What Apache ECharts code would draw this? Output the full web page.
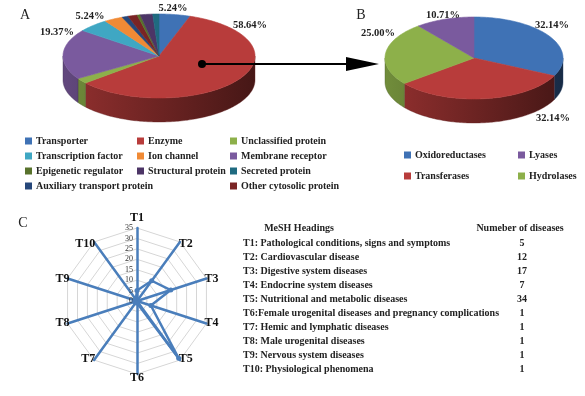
<!DOCTYPE html>
<html>
<head>
<meta charset="utf-8">
<script src="https://cdn.jsdelivr.net/npm/echarts@6/dist/echarts.min.js"></script>
<style>
html,body{margin:0;padding:0;background:#fff}
#main{width:585px;height:396px}
</style>
</head>
<body>
<div id="main"></div>
<script>
// ---- data ----
var pieANames=['Transporter','Enzyme','Unclassified protein','Membrane receptor','Transcription factor','Ion channel','Auxiliary transport protein','Other cytosolic protein','Epigenetic regulator','Structural protein','Secreted protein'];
var pieAValues=[5.24,58.64,2.09,19.37,5.24,3.14,1.05,1.57,0.52,2.09,1.05];
var pieAColors=['#3f72b5','#b83c3b','#8db04a','#7a5a9e','#3fa7c3','#f08a35','#26477a','#7a2424','#58722c','#4c3566','#1f6a80'];
var pieALabelled=[true,true,false,true,true,false,false,false,false,false,false];

var pieBNames=['Oxidoreductases','Transferases','Hydrolases','Lyases'];
var pieBValues=[32.14,32.14,25.00,10.71];
var pieBColors=['#3f72b5','#b83c3b','#8db04a','#7a5a9e'];

var radarNames=['T1','T2','T3','T4','T5','T6','T7','T8','T9','T10'];
var radarValues=[5,12,17,7,34,1,1,1,1,1];
var meshHeadings=['T1: Pathological conditions, signs and symptoms','T2: Cardiovascular disease','T3: Digestive system diseases','T4: Endocrine system diseases','T5: Nutritional and metabolic diseases','T6:Female urogenital diseases and pregnancy complications','T7: Hemic and lymphatic diseases','T8: Male urogenital diseases','T9: Nervous system diseases','T10: Physiological phenomena'];

// legend columns (as laid out in the figure)
var legendACols=[
  ['Transporter','Transcription factor','Epigenetic regulator','Auxiliary transport protein'],
  ['Enzyme','Ion channel','Structural protein'],
  ['Unclassified protein','Membrane receptor','Secreted protein','Other cytosolic protein']
];
var legendBCols=[['Oxidoreductases','Transferases'],['Lyases','Hydrolases']];

// ---- layout ----
var serif='"Liberation Serif","DejaVu Serif",serif';
var geoA={cx:159,cy:56,rx:96,ry:42,depth:24};
var geoB={cx:474,cy:58,rx:89,ry:41,depth:24};
var labelPosA=[[173,8],[250,25],null,[57,32],[90,16]];
var labelPosB=[[552,25],[553,118],[378,33],[443,15]];

function shade(hex,f){
  var n=parseInt(hex.slice(1),16);
  var r=Math.round(((n>>16)&255)*f),g=Math.round(((n>>8)&255)*f),b=Math.round((n&255)*f);
  return 'rgb('+r+','+g+','+b+')';
}

function pie3d(names,values,colors,geo){
  var total=values.reduce(function(a,b){return a+b;},0);
  var acc=0,starts=[];
  values.forEach(function(v){starts.push(acc/total*Math.PI*2);acc+=v;});
  function pt(t,dy){return [geo.cx+geo.rx*Math.sin(t),geo.cy-geo.ry*Math.cos(t)+(dy||0)];}
  function arc(a0,a1,dy){
    var n=Math.max(2,Math.ceil((a1-a0)/0.02)),out=[];
    for(var k=0;k<=n;k++){out.push(pt(a0+(a1-a0)*k/n,dy));}
    return out;
  }
  return names.map(function(name,i){
    var a0=starts[i],a1=a0+values[i]/total*Math.PI*2;
    return {
      type:'custom',name:name,coordinateSystem:'none',silent:true,
      itemStyle:{color:colors[i]},
      data:[[values[i]]],
      renderItem:function(){
        var children=[];
        children.push({type:'polygon',z2:10,shape:{points:[[geo.cx,geo.cy]].concat(arc(a0,a1))},
          style:{fill:colors[i],stroke:colors[i],lineWidth:0.6}});
        var s0=Math.max(a0,Math.PI/2),s1=Math.min(a1,Math.PI*1.5);
        if(s1>s0){
          var top=arc(s0,s1),bot=arc(s0,s1,geo.depth).reverse();
          children.push({type:'polygon',z2:1,shape:{points:top.concat(bot)},
            style:{fill:{type:'linear',global:true,x:geo.cx-geo.rx,y:0,x2:geo.cx+geo.rx,y2:0,
              colorStops:[{offset:0,color:shade(colors[i],0.8)},{offset:1,color:shade(colors[i],0.38)}]},
              stroke:shade(colors[i],0.55),lineWidth:0.4}});
        }
        return {type:'group',children:children};
      }
    };
  });
}

function legendCol(data,left,top,gap){
  return {data:data,orient:'vertical',left:left,top:top,itemGap:gap,itemWidth:7,itemHeight:7,icon:'rect',
    selectedMode:false,padding:0,textStyle:{fontFamily:serif,fontWeight:'bold',fontSize:10,color:'#222',padding:[0,0,0,-1]}};
}

var graphics=[];
function txt(x,y,s,opt){
  graphics.push({type:'text',x:x,y:y,z:100,silent:true,style:Object.assign({text:s,fontFamily:serif,fontSize:10,fontWeight:'bold',fill:'#222',align:'center',verticalAlign:'middle'},opt||{})});
}
txt(25,15,'A',{fontSize:14,fontWeight:'normal'});
txt(361,15,'B',{fontSize:14,fontWeight:'normal'});
txt(23,223,'C',{fontSize:14,fontWeight:'normal'});
pieAValues.forEach(function(v,i){if(pieALabelled[i]&&labelPosA[i])txt(labelPosA[i][0],labelPosA[i][1],v.toFixed(2)+'%',{fontSize:10.5});});
pieBValues.forEach(function(v,i){txt(labelPosB[i][0],labelPosB[i][1],v.toFixed(2)+'%',{fontSize:10.5});});
// arrow from A to B
graphics.push({type:'line',z:100,silent:true,shape:{x1:202,y1:64,x2:350,y2:64},style:{stroke:'#000',lineWidth:2}});
graphics.push({type:'circle',z:100,silent:true,shape:{cx:202,cy:64,r:4},style:{fill:'#000'}});
graphics.push({type:'polygon',z:100,silent:true,shape:{points:[[346,57],[379,64],[346,71]]},style:{fill:'#000'}});
// table
txt(299,228,'MeSH Headings');
txt(520,228,'Numeber of diseases');
meshHeadings.forEach(function(h,i){
  txt(243,243+i*14.1,h,{align:'left'});
  txt(522,243+i*14.1,String(radarValues[i]));
});

// radar goes counter-clockwise in ECharts, so reverse after T1
var order=[0,9,8,7,6,5,4,3,2,1];
var indicators=order.map(function(i,k){
  var o={name:radarNames[i],min:0,max:35};
  if(k===0){o.axisLabel={show:true,fontSize:8,color:'#333',fontFamily:serif,margin:4};}
  return o;
});

var legends=[];
legendACols.forEach(function(c,i){legends.push(legendCol(c,[25,137,230][i],136,5));});
legendBCols.forEach(function(c,i){legends.push(legendCol(c,[404,518][i],150,11));});

var series=pie3d(pieANames,pieAValues,pieAColors,geoA).concat(pie3d(pieBNames,pieBValues,pieBColors,geoB));
series.push({
  type:'radar',silent:true,
  symbol:'circle',symbolSize:5,
  lineStyle:{color:'#4a7ebb',width:2.5},
  itemStyle:{color:'#4a7ebb'},
  data:[{value:order.map(function(i){return radarValues[i];})}]
});

var chart=echarts.init(document.getElementById('main'));
chart.setOption({
  animation:false,
  legend:legends,
  radar:{
    center:[137,301],radius:73,startAngle:90,splitNumber:7,shape:'polygon',
    indicator:indicators,
    axisName:{color:'#111',fontFamily:serif,fontWeight:'bold',fontSize:12},
    nameGap:-2,
    axisLine:{lineStyle:{color:'#4a7ebb',width:2.5}},
    splitLine:{lineStyle:{color:'#d6d6d6',width:1}},
    splitArea:{show:false},
    axisTick:{show:false},
    axisLabel:{show:false}
  },
  graphic:graphics,
  series:series
});
</script>
</body>
</html>
